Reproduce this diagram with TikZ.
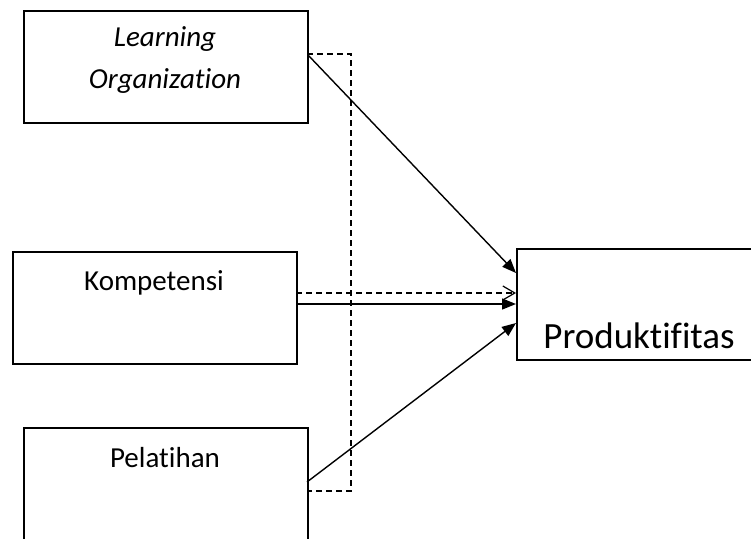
\documentclass[tikz,border=0pt]{standalone}
\usepackage{fontspec}
\setmainfont{Carlito}[RawFeature=-liga]
\usetikzlibrary{arrows.meta}
\begin{document}
\begin{tikzpicture}[x=1pt,y=-1pt,
  boxstyle/.style={draw,line width=1.5pt,inner sep=0pt,anchor=north west},
  lbl/.style={anchor=base,inner sep=0pt,font=\fontsize{29}{33}\selectfont},
  conn/.style={line width=1.4pt,-{Triangle[length=14pt,width=11pt]}},
  dconn/.style={line width=1.4pt,dash pattern=on 6pt off 4pt},
  opentip/.style={-{Straight Barb[length=12pt,width=14pt,line width=1.2pt]}}]
\useasboundingbox (0,0) rectangle (751,538);
\clip (0,0) rectangle (751,538);
% boxes
\node[boxstyle,minimum width=284pt,minimum height=112pt] (lo) at (23,10) {};
\node[boxstyle,minimum width=284pt,minimum height=112pt] (ko) at (12,251) {};
\node[boxstyle,minimum width=284pt,minimum height=140pt] (pe) at (23,427) {};
\node[boxstyle,minimum width=240pt,minimum height=111pt] (pr) at (516,248) {};
% texts
\node[lbl] (t1) at (165,46) {\itshape Learning};
\node[lbl] (t2) at (165,88) {\itshape Organization};
\node[lbl] (t3) at (154,290) {Kompetensi};
\node[lbl] (t4) at (165,467) {Pelatihan};
\node[lbl,font=\fontsize{37}{42}\selectfont] (t5) at (639,348) {Produktifitas};
% connection points
\coordinate (lo-out) at (308,55);
\coordinate (ko-outd) at (296,293);
\coordinate (ko-out) at (296,304);
\coordinate (pe-out) at (307,482);
\coordinate (pr-in1) at (516,273);
\coordinate (pr-ind) at (516,293);
\coordinate (pr-in2) at (516,304);
\coordinate (pr-in3) at (516,323);
\coordinate (lo-d) at (307,54);
\coordinate (d1) at (351,54);
\coordinate (d2) at (351,491);
\coordinate (pe-d) at (307,491);
% connectors
\draw[dconn] (lo-d) -- (d1) -- (d2) -- (pe-d);
\draw[conn] (lo-out) -- (pr-in1);
\draw[dconn,opentip] (ko-outd) -- (pr-ind);
\draw[conn] (ko-out) -- (pr-in2);
\draw[conn] (pe-out) -- (pr-in3);
\end{tikzpicture}
\end{document}
